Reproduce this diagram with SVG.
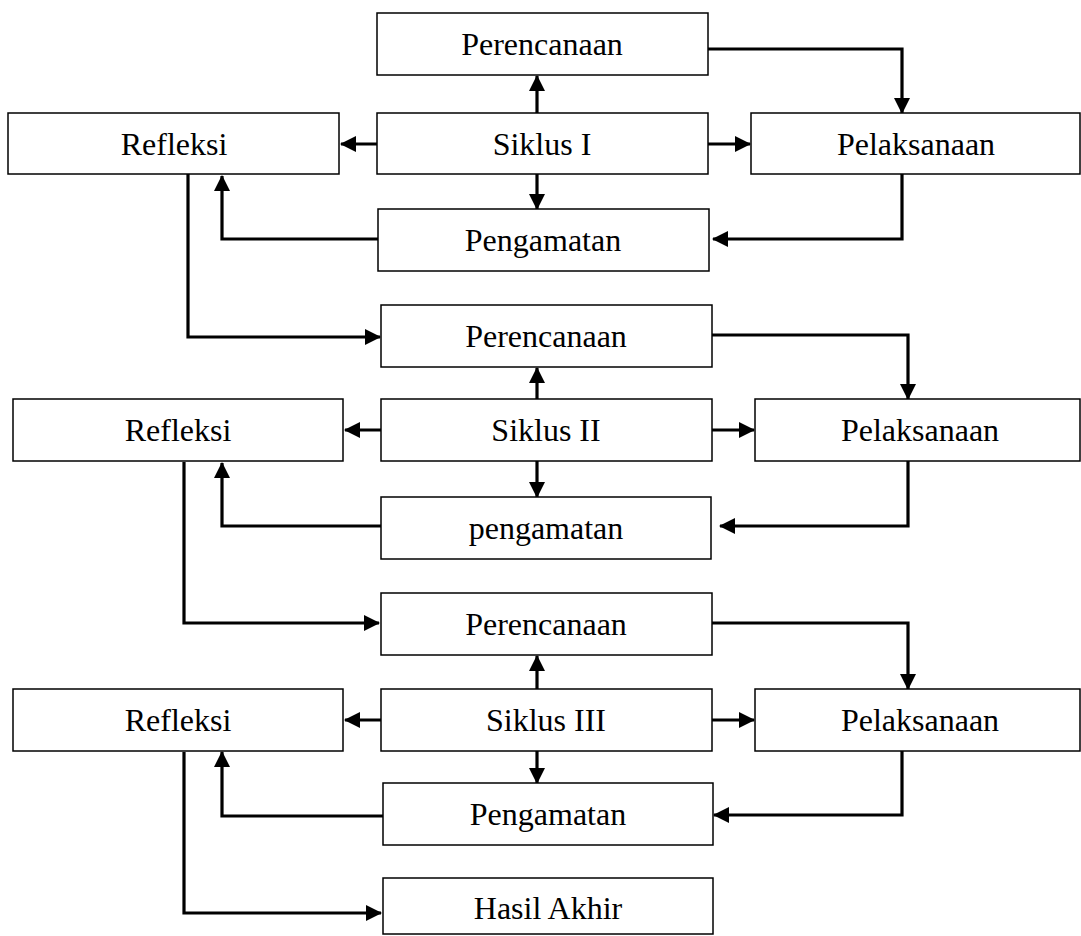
<svg xmlns="http://www.w3.org/2000/svg" width="1081" height="936" viewBox="0 0 1081 936">
<style>
.box{fill:#fff;stroke:#000;stroke-width:1.5}
.lbl{font-family:"Liberation Serif","Times New Roman",serif;font-size:32px;fill:#000;text-anchor:middle}
.con{fill:none;stroke:#000;stroke-width:3.2;marker-end:url(#ah)}
</style>
<defs>
<marker id="ah" viewBox="0 0 16 16" refX="15" refY="8" markerWidth="16" markerHeight="16" markerUnits="userSpaceOnUse" orient="auto">
<path d="M0,0 L16,8 L0,16 z" fill="#000"/>
</marker>
</defs>
<rect width="1081" height="936" fill="#fff"/>
<g id="connectors">
<path class="con" d="M537,113 V76"/>
<path class="con" d="M537,174 V209"/>
<path class="con" d="M377,144 H341"/>
<path class="con" d="M708,144 H750"/>
<path class="con" d="M708,49 H902 V113"/>
<path class="con" d="M902,174 V239 H713"/>
<path class="con" d="M378,239 H222 V176"/>
<path class="con" d="M188,174 V337 H380"/>

<path class="con" d="M537,399 V368"/>
<path class="con" d="M537,461 V497"/>
<path class="con" d="M381,430 H345"/>
<path class="con" d="M712,430 H754"/>
<path class="con" d="M712,335 H908 V399"/>
<path class="con" d="M908,461 V526 H720"/>
<path class="con" d="M381,526 H222 V463"/>
<path class="con" d="M184,462 V623 H379"/>

<path class="con" d="M537,689 V656"/>
<path class="con" d="M537,751 V783"/>
<path class="con" d="M381,720 H345"/>
<path class="con" d="M712,720 H754"/>
<path class="con" d="M712,623 H908 V689"/>
<path class="con" d="M902,751 V815 H714"/>
<path class="con" d="M383,816 H222 V752"/>
<path class="con" d="M184,752 V913 H381"/>
</g>
<g id="perencanaan1"><rect class="box" x="377" y="13" width="331" height="62"/><text class="lbl" x="542" y="55">Perencanaan</text></g>
<g id="siklus1"><rect class="box" x="377" y="113" width="331" height="61"/><text class="lbl" x="542" y="155">Siklus I</text></g>
<g id="pengamatan1"><rect class="box" x="378" y="209" width="331" height="62"/><text class="lbl" x="543" y="251">Pengamatan</text></g>
<g id="refleksi1"><rect class="box" x="8" y="113" width="331" height="61"/><text class="lbl" x="174" y="155">Refleksi</text></g>
<g id="pelaksanaan1"><rect class="box" x="751" y="113" width="329" height="61"/><text class="lbl" x="916" y="155">Pelaksanaan</text></g>

<g id="perencanaan2"><rect class="box" x="381" y="305" width="331" height="62"/><text class="lbl" x="546" y="347">Perencanaan</text></g>
<g id="siklus2"><rect class="box" x="381" y="399" width="331" height="62"/><text class="lbl" x="546" y="441">Siklus II</text></g>
<g id="pengamatan2"><rect class="box" x="381" y="497" width="330" height="62"/><text class="lbl" x="546" y="539">pengamatan</text></g>
<g id="refleksi2"><rect class="box" x="13" y="399" width="330" height="62"/><text class="lbl" x="178" y="441">Refleksi</text></g>
<g id="pelaksanaan2"><rect class="box" x="755" y="399" width="325" height="62"/><text class="lbl" x="920" y="441">Pelaksanaan</text></g>

<g id="perencanaan3"><rect class="box" x="381" y="593" width="331" height="62"/><text class="lbl" x="546" y="635">Perencanaan</text></g>
<g id="siklus3"><rect class="box" x="381" y="689" width="331" height="62"/><text class="lbl" x="546" y="731">Siklus III</text></g>
<g id="pengamatan3"><rect class="box" x="383" y="783" width="330" height="62"/><text class="lbl" x="548" y="825">Pengamatan</text></g>
<g id="refleksi3"><rect class="box" x="13" y="689" width="330" height="62"/><text class="lbl" x="178" y="731">Refleksi</text></g>
<g id="pelaksanaan3"><rect class="box" x="755" y="689" width="325" height="62"/><text class="lbl" x="920" y="731">Pelaksanaan</text></g>

<g id="hasil"><rect class="box" x="383" y="878" width="330" height="56"/><text class="lbl" x="548" y="919">Hasil Akhir</text></g>
</svg>
